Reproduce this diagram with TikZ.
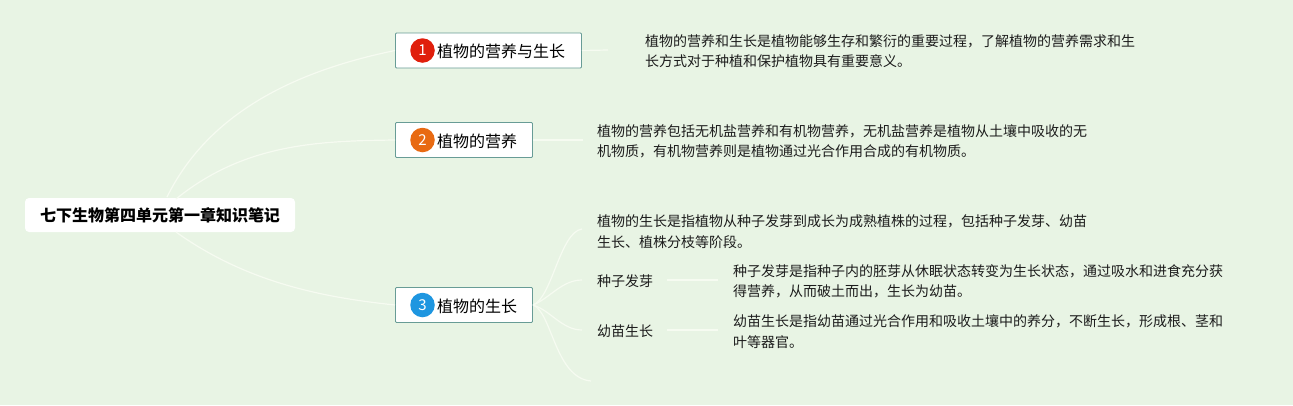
\documentclass[tikz,border=0pt]{standalone}
\usepackage{fontspec}
\setmainfont{Noto Sans CJK SC}
\usetikzlibrary{calc}
\definecolor{bgc}{HTML}{E8F4E4}
\definecolor{linec}{HTML}{F6FBF1}
\definecolor{borderc}{HTML}{689C96}
\definecolor{inkc}{HTML}{1C1C1C}
\definecolor{redc}{HTML}{E01F0C}
\definecolor{orangec}{HTML}{E86A12}
\definecolor{bluec}{HTML}{1E96E0}
\tikzset{
  x=1pt,y=-1pt,
  rootbox/.style={fill=white,rounded corners=4pt,minimum width=270pt,minimum height=34pt,inner sep=0pt,font=\fontsize{16}{16}\selectfont\bfseries,text=black},
  topicbox/.style={draw=borderc,line width=0.9pt,fill=white,rounded corners=1pt,minimum height=35pt,inner sep=0pt,anchor=west},
  topictext/.style={anchor=west,inner sep=0pt,font=\fontsize{16}{16}\selectfont,text=black},
  badge/.style={circle,minimum size=24.5pt,inner sep=0pt,text=white,font=\fontsize{15}{15}\selectfont},
  bodytext/.style={anchor=west,inner sep=0pt,align=left,font=\fontsize{14}{20.5}\selectfont,text=inkc},
  conn/.style={draw=linec,line width=1.2pt}
}
\begin{document}
\begin{tikzpicture}
\useasboundingbox (0,0) rectangle (1293,405);
\fill[bgc] (0,0) rectangle (1293,405);

% nodes
\node[rootbox] (root) at (160,215) {\raisebox{-0.7pt}{七下生物第四单元第一章知识笔记}};

\node[topicbox,minimum width=186pt] (t1) at (395,50.5) {};
\node[badge,fill=redc] (b1) at (422.5,50.5) {1};
\node[topictext] (l1) at (437,51) {植物的营养与生长};

\node[topicbox,minimum width=137pt] (t2) at (395,140) {};
\node[badge,fill=orangec] (b2) at (422.5,140) {2};
\node[topictext] (l2) at (437,141) {植物的营养};

\node[topicbox,minimum width=137pt] (t3) at (395,305) {};
\node[badge,fill=bluec] (b3) at (422.5,305) {3};
\node[topictext] (l3) at (437,306) {植物的生长};

\node[bodytext] (d1) at (645,51) {植物的营养和生长是植物能够生存和繁衍的重要过程，了解植物的营养需求和生\\长方式对于种植和保护植物具有重要意义。};
\node[bodytext] (d2) at (597,141.5) {植物的营养包括无机盐营养和有机物营养，无机盐营养是植物从土壤中吸收的无\\机物质，有机物营养则是植物通过光合作用合成的有机物质。};
\node[bodytext] (d3) at (597,231.5) {植物的生长是指植物从种子发芽到成长为成熟植株的过程，包括种子发芽、幼苗\\生长、植株分枝等阶段。};
\node[bodytext] (s1) at (597,281.5) {种子发芽};
\node[bodytext] (s2) at (597,331.5) {幼苗生长};
\node[bodytext] (e1) at (733,281.5) {种子发芽是指种子内的胚芽从休眠状态转变为生长状态，通过吸水和进食充分获\\得营养，从而破土而出，生长为幼苗。};
\node[bodytext] (e2) at (733,331.5) {幼苗生长是指幼苗通过光合作用和吸收土壤中的养分，不断生长，形成根、茎和\\叶等器官。};

% free ends
\coordinate (r1) at (167,197);
\coordinate (r2) at (176,199);
\coordinate (r3) at (176,232);
\coordinate (f1) at (608,50);
\coordinate (f2) at (583,140);
\coordinate (j3) at (533,305);
\coordinate (g1) at (582,229);
\coordinate (g2) at (582,280);
\coordinate (g3) at (582,330);
\coordinate (g4) at (591,381);
\coordinate (h1s) at (667,280);
\coordinate (h1e) at (718,280);
\coordinate (h2s) at (667,330);
\coordinate (h2e) at (718,330);

% connectors
\draw[conn] (r1) .. controls (210,110) and (300,70) .. (t1.west);
\draw[conn] (r2) .. controls (245,143) and (320,141) .. (t2.west);
\draw[conn] (r3) .. controls (250,285) and (330,298) .. (t3.west);
\draw[conn] (t1.east) -- (f1);
\draw[conn] (t2.east) -- (f2);
\draw[conn] (j3) .. controls (552,298) and (560,232) .. (g1);
\draw[conn] (j3) .. controls (550,298) and (562,280) .. (g2);
\draw[conn] (j3) .. controls (550,310) and (562,330) .. (g3);
\draw[conn] (j3) .. controls (552,312) and (555,378) .. (g4);
\draw[conn] (h1s) -- (h1e);
\draw[conn] (h2s) -- (h2e);
\end{tikzpicture}
\end{document}
